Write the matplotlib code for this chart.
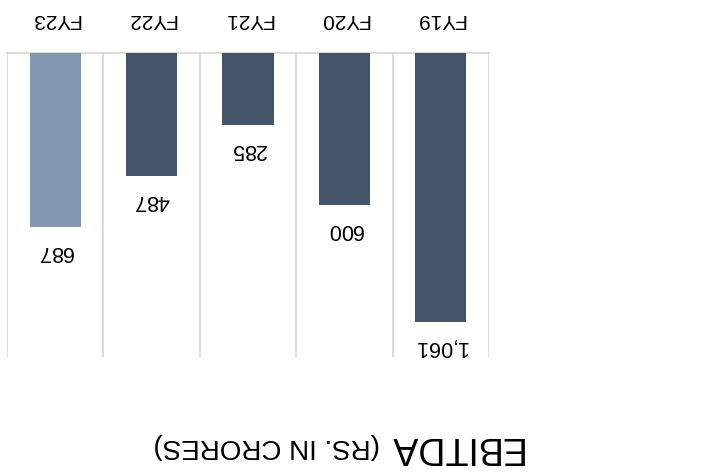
import numpy as np
import matplotlib.pyplot as plt

# EBITDA by fiscal year, Rs. in crores
years = ["FY19", "FY20", "FY21", "FY22", "FY23"]
ebitda = [1061, 600, 285, 487, 687]
value_labels = ["1,061", "600", "285", "487", "687"]

dark = "#44546a"
light = "#8497b0"
bar_colors = [dark, dark, dark, dark, light]
grid_color = "#d9d9d9"

plt.rcParams["font.family"] = ["Liberation Sans", "DejaVu Sans"]

fig = plt.figure(figsize=(7.05, 4.73), dpi=100)
ax = fig.add_axes([0.0099, 0.245, 0.6837, 0.643])

x = np.arange(len(years))
ax.bar(x, ebitda, width=0.53, color=bar_colors, zorder=3)

# whole chart is drawn turned over: bars hang from the top, years run right to left
ax.set_ylim(0, 1200)
ax.invert_yaxis()
ax.set_xlim(len(years) - 0.5, -0.5)

for xi, v, lab in zip(x, ebitda, value_labels):
    ax.annotate(lab, (xi, v), xytext=(0, -10), textcoords="offset points",
                ha="center", va="top", rotation=180, fontsize=15.5, color="black")

ax.xaxis.tick_top()
ax.set_xticks(x)
ax.set_xticklabels(years, rotation=180, fontsize=15)
ax.tick_params(axis="x", length=0, pad=17)
ax.set_yticks([])

ax.set_xticks(np.arange(len(years) + 1) - 0.5, minor=True)
ax.tick_params(axis="x", which="minor", length=0)
ax.grid(True, axis="x", which="minor", color=grid_color, linewidth=1.3, zorder=0)

for side in ["left", "right", "bottom"]:
    ax.spines[side].set_visible(False)
ax.spines["top"].set_color(grid_color)
ax.spines["top"].set_linewidth(1.3)

fig.text(522 / 705, 0.055, "EBITDA", rotation=180, ha="right", va="center",
         fontsize=27, color="black")
fig.text(380 / 705, 0.058, "(RS. IN CRORES)", rotation=180, ha="right", va="center",
         fontsize=20, color="black")

fig.savefig("out.png", dpi=100)
